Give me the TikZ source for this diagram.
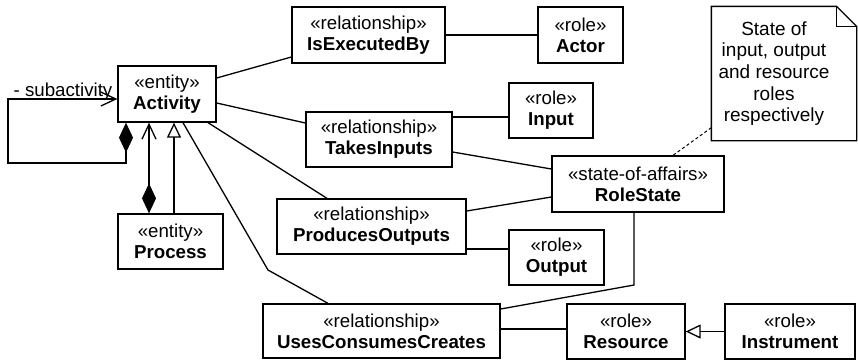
\documentclass[tikz,border=0pt]{standalone}
\usepackage{fontspec}
\setmainfont{Liberation Sans}
\usetikzlibrary{arrows.meta,calc}
\begin{document}
\begin{tikzpicture}[x=1pt,y=-1pt,
  line width=1.3pt,
  cls/.style={draw, inner sep=0pt, align=center,
    font=\fontsize{18.7}{21}\selectfont, minimum height=55pt},
  notetext/.style={inner sep=0pt, align=center,
    font=\fontsize{19}{21.7}\selectfont},
  composite/.style={{Diamond[length=30pt,width=14pt]}-{Straight Barb[length=15pt,width=14pt]}},
  inherit/.style={-{Triangle[open,length=15pt,width=14pt]}},
  anchorline/.style={dashed, dash pattern=on 3pt off 2.5pt, line width=1pt},
]
\useasboundingbox (0,0) rectangle (858,360);

% classes
\node[cls, minimum width=98pt, minimum height=56pt] (Activity) at (167,94) {«entity»\\\textbf{Activity}};
\node[cls, minimum width=105pt] (Process) at (170.5,241.5) {«entity»\\\textbf{Process}};
\node[cls, minimum width=153pt, minimum height=56pt] (IsExecutedBy) at (368.5,35) {«relationship»\\\textbf{IsExecutedBy}};
\node[cls, minimum width=85pt, minimum height=56pt] (Actor) at (580.5,35) {«role»\\\textbf{Actor}};
\node[cls, minimum width=84pt] (Input) at (551,110.5) {«role»\\\textbf{Input}};
\node[cls, minimum width=146pt] (TakesInputs) at (379,139.5) {«relationship»\\\textbf{TakesInputs}};
\node[cls, minimum width=172pt, minimum height=56pt] (RoleState) at (638,184) {«state-of-affairs»\\\textbf{RoleState}};
\node[cls, minimum width=189pt] (ProducesOutputs) at (371.5,226.5) {«relationship»\\\textbf{ProducesOutputs}};
\node[cls, minimum width=95pt] (Output) at (556.5,257.5) {«role»\\\textbf{Output}};
\node[cls, minimum width=237pt, minimum height=54pt] (UCC) at (381.5,331) {«relationship»\\\textbf{UsesConsumesCreates}};
\node[cls, minimum width=118pt] (Resource) at (626,331.5) {«role»\\\textbf{Resource}};
\node[cls, minimum width=130pt] (Instrument) at (790,331.5) {«role»\\\textbf{Instrument}};

% note with folded corner
\node[notetext, minimum width=124pt, minimum height=133pt] (note) at (774,73.5)
  {State of\\input, output\\and resource\\roles\\respectively};
\draw (note.south west) -- (note.north west) -- (note.north east)
  -- ([xshift=20pt,yshift=-20pt]note.north east) -- ([xshift=20pt]note.south east) -- cycle;
\draw (note.north east) -- ([yshift=-20pt]note.north east) -- ([xshift=20pt,yshift=-20pt]note.north east);
\draw[anchorline] ([yshift=13pt]note.south west) -- ([xshift=35pt]RoleState.north);

% self association of Activity
\node[anchor=base west, inner sep=0pt, font=\fontsize{18.7}{21}\selectfont] (sublabel) at (13,96) {- subactivity};
\coordinate (loopA) at (8,163);
\draw[composite] ([xshift=-41pt]Activity.south) |- (loopA) |- ([yshift=-5pt]Activity.west);

% Process to Activity
\coordinate (compB) at ([xshift=-21.5pt]Process.north);
\draw[composite] (compB) -- (compB |- Activity.south);
\coordinate (genB) at ([xshift=3.5pt]Process.north);
\draw[inherit] (genB) -- (genB |- Activity.south);

% associations from Activity
\draw ([yshift=16pt]Activity.east) -- ([yshift=-22pt]IsExecutedBy.west);
\draw ([yshift=-9pt]Activity.east) -- ([yshift=16.5pt]TakesInputs.west);
\draw ([xshift=41pt]Activity.south) -- ([xshift=-44.5pt]ProducesOutputs.north);
\coordinate (bendU) at (268,270);
\draw ([xshift=16pt]Activity.south) -- (bendU) -- ([xshift=-53.5pt]UCC.north);

% relationship to role links
\draw (IsExecutedBy) -- (Actor);
\coordinate (tiA) at ([yshift=22.5pt]TakesInputs.east);
\draw (tiA) -- (tiA -| Input.west);
\draw ([yshift=-12.5pt]TakesInputs.east) -- ([yshift=15pt]RoleState.west);
\draw ([yshift=15.5pt]ProducesOutputs.east) -- ([yshift=-13pt]RoleState.west);
\coordinate (poA) at ([yshift=-22.5pt]ProducesOutputs.east);
\draw (poA) -- (poA -| Output.west);
\coordinate (rsA) at ([xshift=-4pt]RoleState.south);
\coordinate (rsB) at (634,285);
\draw (rsA) -- (rsB) -- ([yshift=22pt]UCC.east);
\coordinate (ucA) at ([yshift=2pt]UCC.east);
\draw (ucA) -- (ucA -| Resource.west);
\draw[inherit] (Instrument.west) -- (Resource.east);
\end{tikzpicture}
\end{document}
